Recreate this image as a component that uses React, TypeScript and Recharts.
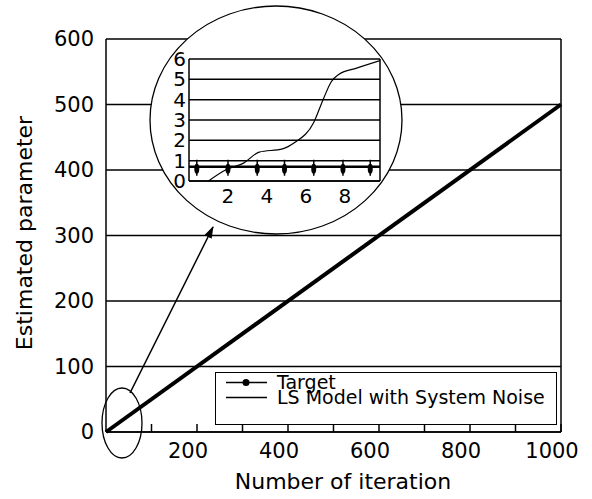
import { LineChart, Line, XAxis, YAxis, CartesianGrid, ReferenceLine } from 'recharts'

const FONT = '"DejaVu Sans", sans-serif'

// main chart
const mainIterations = [0, 1000]
const mainTarget = [0, 500]
const mainLsModel = [0, 500]
const mainYTicks = [0, 100, 200, 300, 400, 500, 600]
const mainXTicks = [100, 200, 300, 400, 500, 600, 700, 800, 900, 1000]
const mainXLabels = [200, 400, 600, 800, 1000]

// zoomed inset (first iterations)
const insetLsX = [1.0, 1.9, 2.8, 3.6, 4.8, 5.4, 6.4, 6.9, 7.3, 7.7, 8.6, 9.8]
const insetLsY = [0, 0.55, 0.88, 1.42, 1.58, 1.88, 2.88, 4.05, 4.88, 5.25, 5.55, 5.92]
const insetTargetX = [0, 0.4, 2.0, 3.5, 4.9, 6.4, 7.9, 9.3, 9.8]
const insetTargetMarked = [false, true, true, true, true, true, true, true, false]
const insetTargetValue = 0.7
const insetYTicks = [0, 1, 2, 3, 4, 5, 6]
const insetXTicks = [2, 4, 6, 8]
const insetXMax = 9.8

const mainData = mainIterations.map((x, i) => ({ x, target: mainTarget[i], ls: mainLsModel[i] }))
const insetLsData = insetLsX.map((x, i) => ({ x, y: insetLsY[i] }))
const insetTargetData = insetTargetX.map((x, i) => ({ x, y: insetTargetValue, mark: insetTargetMarked[i] }))

function MainXTick(props: any) {
  const { x, y, payload } = props
  return (
    <g>
      <line x1={x} y1={y} x2={x} y2={y - 8} stroke="#000" strokeWidth={1.5} />
      {mainXLabels.includes(payload.value) && (
        <text x={x - 9} y={y + 26} textAnchor="middle" fontSize={21} fontFamily={FONT} fill="#000">
          {payload.value}
        </text>
      )}
    </g>
  )
}

function TargetMark(props: any) {
  const { cx, cy, payload, index } = props
  if (!payload || !payload.mark) return <g key={`m-${index}`} />
  return (
    <g key={`m-${index}`}>
      <line x1={cx} y1={cy - 7} x2={cx} y2={cy + 9} stroke="#000" strokeWidth={1.5} />
      <ellipse cx={cx} cy={cy + 2} rx={2.5} ry={5} fill="#000" />
    </g>
  )
}

function MainLegend() {
  const row = { display: 'flex', alignItems: 'center', height: 15 }
  return (
    <div
      style={{
        position: 'absolute',
        left: 215,
        top: 372,
        boxSizing: 'border-box',
        width: 342,
        height: 53,
        border: '1.5px solid #000',
        background: '#fff',
        paddingTop: 2,
        fontFamily: FONT,
        fontSize: 19,
        lineHeight: '15px',
        color: '#000'
      }}
    >
      <div style={row}>
        <svg width={41} height={15} style={{ marginLeft: 10, marginRight: 10 }}>
          <line x1={0} y1={7.5} x2={41} y2={7.5} stroke="#000" strokeWidth={1.5} />
          <circle cx={20} cy={7.5} r={3.5} fill="#000" />
        </svg>
        <span>Target</span>
      </div>
      <div style={row}>
        <svg width={41} height={15} style={{ marginLeft: 10, marginRight: 10 }}>
          <line x1={0} y1={7.5} x2={41} y2={7.5} stroke="#000" strokeWidth={1.5} />
        </svg>
        <span>LS Model with System Noise</span>
      </div>
    </div>
  )
}

export default function App() {
  return (
    <div style={{ position: 'absolute', left: 0, top: 0, width: 592, height: 499, background: '#fff', overflow: 'hidden' }}>
      <LineChart width={592} height={499} data={mainData} margin={{ top: 39, right: 31, bottom: 0, left: 0 }}>
        <CartesianGrid horizontal vertical={false} stroke="#000" strokeWidth={1.5} />
        <XAxis
          dataKey="x"
          type="number"
          domain={[0, 1000]}
          ticks={mainXTicks}
          height={67}
          axisLine={{ stroke: '#000', strokeWidth: 1.5 }}
          tickLine={false}
          tickSize={0}
          tickMargin={0}
          tick={MainXTick}
          interval={0}
        />
        <YAxis
          type="number"
          domain={[0, 600]}
          ticks={mainYTicks}
          width={106}
          axisLine={{ stroke: '#000', strokeWidth: 1.5 }}
          tickLine={false}
          tickSize={0}
          tickMargin={12}
          tick={{ fill: '#000', fontSize: 21, fontFamily: FONT }}
          interval={0}
        />
        <ReferenceLine x={1000} stroke="#000" strokeWidth={1.5} />
        <Line dataKey="target" stroke="#000" strokeWidth={4} dot={false} isAnimationActive={false} />
        <Line dataKey="ls" stroke="#000" strokeWidth={1.5} dot={false} isAnimationActive={false} />
      </LineChart>

      <MainLegend />

      <svg width={592} height={499} style={{ position: 'absolute', left: 0, top: 0, pointerEvents: 'none' }}>
        <defs>
          <marker id="arrowHead" markerWidth={12} markerHeight={8} refX={11} refY={4} orient="auto" markerUnits="userSpaceOnUse">
            <path d="M0,0 L12,4 L0,8 Z" fill="#000" />
          </marker>
        </defs>
        <ellipse cx={276} cy={120} rx={126} ry={114} fill="#fff" stroke="#000" strokeWidth={1.3} />
        <ellipse cx={122} cy={423} rx={20} ry={35} fill="none" stroke="#000" strokeWidth={1.3} />
        <line x1={130} y1={393} x2={213} y2={227} stroke="#000" strokeWidth={1.5} markerEnd="url(#arrowHead)" />
      </svg>

      <div style={{ position: 'absolute', left: 150, top: 40 }}>
        <LineChart width={240} height={170} margin={{ top: 19, right: 10, bottom: 0, left: 0 }}>
          <CartesianGrid horizontal vertical={false} stroke="#000" strokeWidth={1.5} />
          <XAxis
            dataKey="x"
            type="number"
            domain={[0, insetXMax]}
            ticks={insetXTicks}
            height={29}
            axisLine={{ stroke: '#000', strokeWidth: 1.5 }}
            tickLine={false}
            tickSize={0}
            tickMargin={8}
            tick={{ fill: '#000', fontSize: 20, fontFamily: FONT }}
            interval={0}
            allowDataOverflow
          />
          <YAxis
            type="number"
            domain={[0, 6]}
            ticks={insetYTicks}
            width={39}
            axisLine={{ stroke: '#000', strokeWidth: 1.5 }}
            tickLine={false}
            tickSize={0}
            tickMargin={3}
            tick={{ fill: '#000', fontSize: 20, fontFamily: FONT }}
            interval={0}
          />
          <ReferenceLine x={insetXMax} stroke="#000" strokeWidth={1.5} />
          <Line data={insetTargetData} dataKey="y" stroke="#000" strokeWidth={2.5} dot={TargetMark} isAnimationActive={false} />
          <Line data={insetLsData} dataKey="y" type="monotone" stroke="#000" strokeWidth={1.2} dot={false} isAnimationActive={false} />
        </LineChart>
      </div>

      <div
        style={{
          position: 'absolute',
          left: 193,
          top: 471,
          width: 300,
          textAlign: 'center',
          fontFamily: FONT,
          fontSize: 22,
          lineHeight: '22px',
          color: '#000'
        }}
      >
        Number of iteration
      </div>
      <div
        style={{
          position: 'absolute',
          left: -125,
          top: 221,
          width: 300,
          height: 24,
          textAlign: 'center',
          fontFamily: FONT,
          fontSize: 22,
          lineHeight: '24px',
          color: '#000',
          transform: 'rotate(-90deg)',
          transformOrigin: 'center'
        }}
      >
        Estimated parameter
      </div>
    </div>
  )
}
